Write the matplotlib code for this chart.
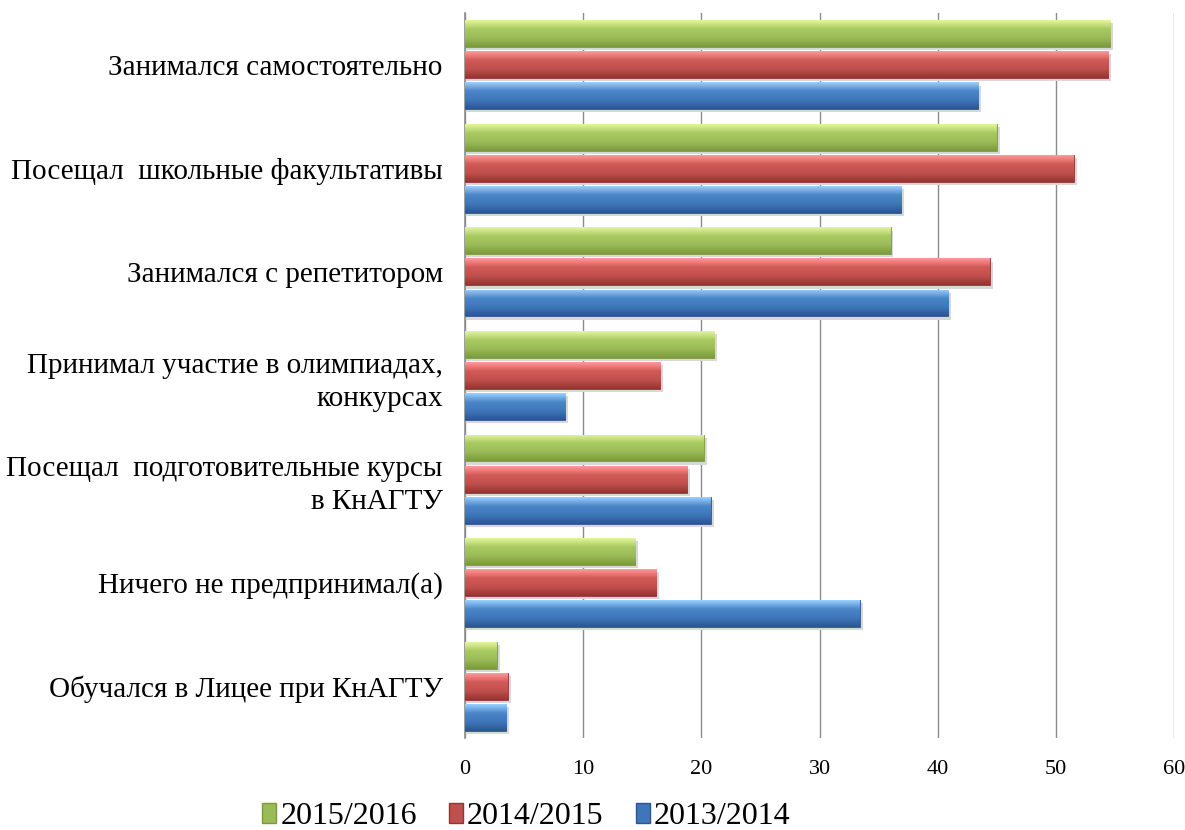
import numpy as np
import matplotlib.pyplot as plt
from matplotlib.colors import LinearSegmentedColormap
from matplotlib.patches import Patch

plt.rcParams['font.family'] = ['Liberation Serif', 'DejaVu Serif']

categories = [
    "Занимался самостоятельно",
    "Посещал  школьные факультативы",
    "Занимался с репетитором",
    "Принимал участие в олимпиадах,\nконкурсах",
    "Посещал  подготовительные курсы\nв КнАГТУ",
    "Ничего не предпринимал(а)",
    "Обучался в Лицее при КнАГТУ",
]
series_names = ["2015/2016", "2014/2015", "2013/2014"]
v_2015_2016 = [54.6, 45.0, 36.0, 21.1, 20.2, 14.4, 2.7]
v_2014_2015 = [54.4, 51.5, 44.4, 16.5, 18.8, 16.2, 3.6]
v_2013_2014 = [43.4, 36.9, 40.9, 8.5, 20.8, 33.4, 3.5]
x_ticks = [0, 10, 20, 30, 40, 50, 60]

# top highlight -> body -> bottom shade
palettes = [
    ["#e2f6a0", "#a9c960", "#9bbb59", "#7b9a3c"],
    ["#ff9a9a", "#d05a57", "#c0504d", "#963330"],
    ["#9ad0ff", "#4a86c8", "#3f76ba", "#2c5690"],
]
all_values = [v_2015_2016, v_2014_2015, v_2013_2014]

fig = plt.figure(figsize=(11.85, 8.3), dpi=100)
ax = fig.add_axes([0.3924, 0.1108, 0.5985, 0.8735])

y = np.arange(len(categories))
offsets = [-0.3, 0.0, 0.3]
bar_h = 0.26

grad = np.linspace(0, 1, 64).reshape(-1, 1)
for vals, off, pal in zip(all_values, offsets, palettes):
    cmap = LinearSegmentedColormap.from_list("g", pal)
    bars = ax.barh(y + off, vals, height=bar_h, color=pal[2],
                   edgecolor=pal[3], linewidth=0.6, zorder=3)
    for b in bars:
        x0, y0 = b.get_x(), b.get_y()
        w, h = b.get_width(), b.get_height()
        # soft shadow
        ax.barh(y0 + h / 2 + 0.03, w + 0.25, height=h, left=x0,
                color="#d8d8d8", zorder=2, linewidth=0)
        im = ax.imshow(grad, cmap=cmap, aspect="auto",
                       extent=[x0, x0 + w, y0 + h, y0], zorder=4)
        im.set_clip_path(b)

ax.set_xlim(0, 60)
ax.set_ylim(len(categories) - 0.5, -0.5)
ax.set_xticks(x_ticks)
ax.set_xticklabels([str(t) for t in x_ticks], fontsize=16)
ax.set_yticks(y)
ax.set_yticklabels(categories, fontsize=21, linespacing=1.35)
ax.tick_params(axis="both", length=0)
ax.tick_params(axis="x", pad=16)
ax.tick_params(axis="y", pad=16)

ax.grid(axis="x", color="#8c8c8c", linewidth=1.0, zorder=0)
ax.set_axisbelow(True)
for s in ["top", "right", "bottom"]:
    ax.spines[s].set_visible(False)
ax.spines["left"].set_color("#8c8c8c")
ax.spines["left"].set_linewidth(1.2)

handles = [Patch(facecolor=p[2], edgecolor=p[3]) for p in palettes]
fig.legend(handles, series_names, loc="center", ncol=3,
           bbox_to_anchor=(0.444, 0.016), frameon=False, fontsize=23,
           handlelength=0.45, handleheight=0.55, handletextpad=0.12,
           columnspacing=1.0)

fig.savefig("out.png", dpi=100)
